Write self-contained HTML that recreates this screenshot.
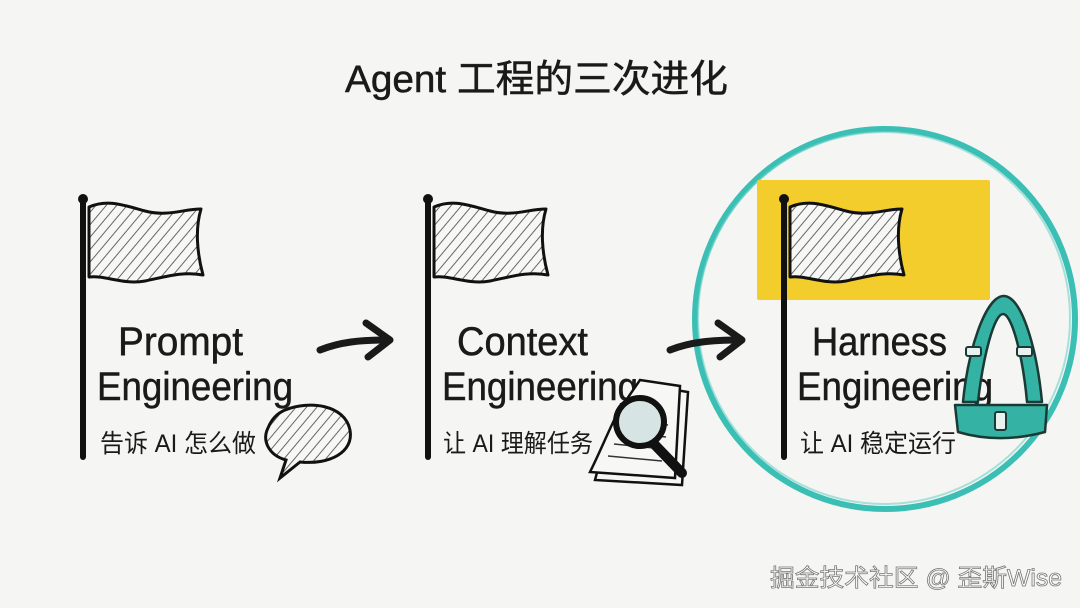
<!DOCTYPE html>
<html><head><meta charset="utf-8"><style>
html,body{margin:0;padding:0;background:#f5f5f3;}
svg{display:block}
.h{font-family:"Liberation Sans","Noto Sans CJK SC",sans-serif;fill:#1a1a1a;stroke:#1a1a1a;stroke-width:0.5;}
.c{font-family:"Liberation Sans","Noto Sans CJK SC",sans-serif;fill:#1a1a1a;}
</style></head><body>
<svg width="1080" height="608" viewBox="0 0 1080 608" xmlns="http://www.w3.org/2000/svg">
<defs>
<pattern id="hatch" width="8" height="8" patternUnits="userSpaceOnUse" patternTransform="rotate(40)">
<rect width="8" height="8" fill="#f7f7f5"/>
<line x1="0" y1="0" x2="0" y2="8" stroke="#666" stroke-width="2"/>
</pattern>
<g id="flag">
<path d="M6,12 C25,4 40,10 62,16 C85,22 100,14 118,14 C112,34 114,58 120,80 C100,76 82,82 62,86 C40,90 22,80 6,82 Z" fill="url(#hatch)" stroke="#111" stroke-width="3" stroke-linejoin="round"/>
<line x1="0" y1="5" x2="0" y2="262" stroke="#111" stroke-width="6" stroke-linecap="round"/>
<circle cx="0" cy="4" r="5" fill="#111"/>
</g>
</defs>
<rect width="1080" height="608" fill="#f5f5f3"/>

<text x="345" y="92" class="h" font-size="38" textLength="383" lengthAdjust="spacingAndGlyphs">Agent 工程的三次进化</text>

<circle cx="885" cy="319" r="190" fill="none" stroke="#3bbfb4" stroke-width="6"/>
<circle cx="884" cy="318" r="186" fill="none" stroke="#6fd3ca" stroke-width="2" opacity="0.6"/>
<rect x="757" y="180" width="233" height="120" fill="#f2cd2c" rx="2"/>

<use href="#flag" x="83" y="195"/>
<use href="#flag" x="428" y="195"/>
<use href="#flag" x="784" y="195"/>

<g fill="none" stroke="#1a1a1a" stroke-width="7" stroke-linecap="round" stroke-linejoin="round">
<path d="M320,350 C340,342 360,340 388,340"/>
<path d="M366,323 L390,340 L368,357"/>
<path d="M670,350 C690,342 712,340 740,340"/>
<path d="M718,323 L742,340 L720,357"/>
</g>

<text x="118" y="355" class="h" font-size="40" textLength="125" lengthAdjust="spacingAndGlyphs">Prompt</text>
<text x="97" y="400" class="h" font-size="40" textLength="196" lengthAdjust="spacingAndGlyphs">Engineering</text>
<text x="100" y="452" class="c" font-size="25" textLength="156" lengthAdjust="spacingAndGlyphs">告诉 AI 怎么做</text>

<text x="457" y="355" class="h" font-size="40" textLength="131" lengthAdjust="spacingAndGlyphs">Context</text>
<text x="442" y="400" class="h" font-size="40" textLength="196" lengthAdjust="spacingAndGlyphs">Engineering</text>
<text x="443" y="452" class="c" font-size="25" textLength="150" lengthAdjust="spacingAndGlyphs">让 AI 理解任务</text>

<text x="812" y="355" class="h" font-size="40" textLength="135" lengthAdjust="spacingAndGlyphs">Harness</text>
<text x="797" y="400" class="h" font-size="40" textLength="196" lengthAdjust="spacingAndGlyphs">Engineering</text>
<text x="800" y="452" class="c" font-size="25" textLength="156" lengthAdjust="spacingAndGlyphs">让 AI 稳定运行</text>

<path d="M285,410 C310,400 345,405 350,430 C354,452 330,465 300,462 L280,478 L286,460 C268,455 262,440 268,428 C272,418 278,413 285,410 Z" fill="url(#hatch)" stroke="#111" stroke-width="3"/>

<g stroke="#111" stroke-width="2.5" fill="#f7f7f5">
<path d="M645,385 L688,392 L682,485 L595,480 C600,460 608,440 620,420 Z"/>
<path d="M640,380 L680,386 L675,478 L590,472 C600,452 608,432 618,412 Z"/>
</g>
<g stroke="#333" stroke-width="1.5">
<line x1="625" y1="420" x2="668" y2="425"/><line x1="620" y1="432" x2="666" y2="437"/>
<line x1="614" y1="444" x2="664" y2="449"/><line x1="608" y1="456" x2="662" y2="461"/>
</g>
<line x1="655" y1="445" x2="682" y2="473" stroke="#111" stroke-width="10" stroke-linecap="round"/>
<circle cx="640" cy="422" r="24" fill="#d6e4e4" stroke="#111" stroke-width="6"/>

<g stroke="#1a3a36" stroke-width="2.5" fill="#34b3a5" stroke-linejoin="round">
<path d="M963,402 C968,350 985,298 1003,296 C1022,295 1037,350 1042,402 L1027,402 C1023,357 1012,314 1003,314 C994,314 983,357 978,402 Z"/>
<path d="M955,405 L1047,405 L1045,432 C1015,440 985,440 958,432 Z"/>
</g>
<g stroke="#1a3a36" stroke-width="2" fill="#e8f2f0">
<rect x="966" y="347" width="15" height="9" rx="2"/>
<rect x="1017" y="347" width="15" height="9" rx="2"/>
<rect x="995" y="412" width="11" height="18" rx="2"/>
</g>

<text x="770" y="586" font-family="'Liberation Sans','Noto Sans CJK SC',sans-serif" font-size="24" fill="#fff" stroke="#777" stroke-width="0.8" textLength="292" lengthAdjust="spacingAndGlyphs">掘金技术社区 @ 歪斯Wise</text>
</svg>
</body></html>
